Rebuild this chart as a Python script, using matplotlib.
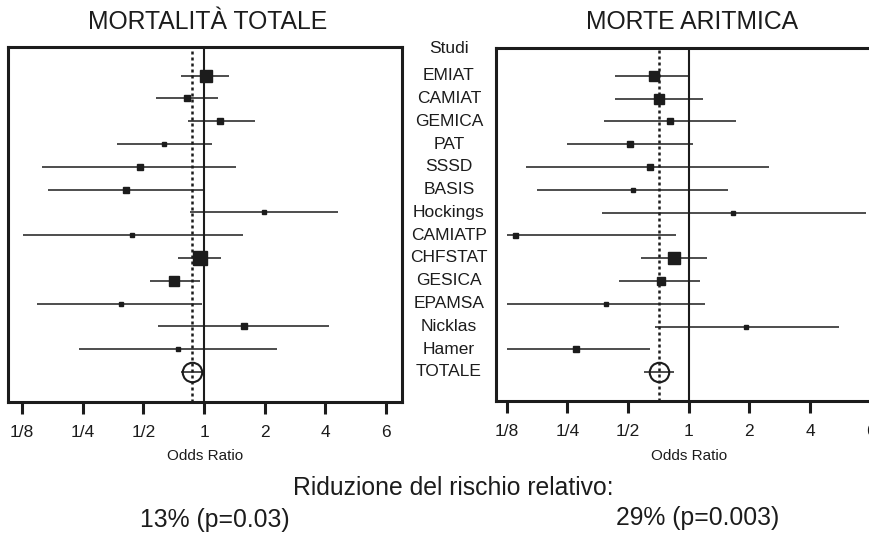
import matplotlib
matplotlib.use("Agg")
import matplotlib.pyplot as plt
import matplotlib.transforms as mtransforms

plt.rcParams['font.family'] = ['Liberation Sans', 'DejaVu Sans']

studies = ["EMIAT", "CAMIAT", "GEMICA", "PAT", "SSSD", "BASIS", "Hockings",
           "CAMIATP", "CHFSTAT", "GESICA", "EPAMSA", "Nicklas", "Hamer"]

# mortalita totale: odds ratio, IC 95%, peso (lato del quadrato, pt)
tot_or = [1.02, 0.82, 1.20, 0.63, 0.48, 0.41, 1.99, 0.44, 0.95, 0.71, 0.386, 1.57, 0.74]
tot_lo = [0.77, 0.575, 0.83, 0.37, 0.158, 0.169, 0.85, 0.126, 0.74, 0.54, 0.149, 0.59, 0.24]
tot_hi = [1.33, 1.17, 1.78, 1.09, 1.44, 0.99, 4.59, 1.56, 1.21, 0.95, 0.98, 4.17, 2.31]
tot_w = [8.5, 5.0, 4.5, 3.5, 4.2, 4.0, 3.0, 3.5, 9.5, 7.5, 3.5, 4.0, 3.5]
tot_pool = (0.875, 0.77, 0.99)

# morte aritmica
arr_or = [0.67, 0.71, 0.81, 0.51, 0.64, 0.53, 1.66, 0.138, 0.85, 0.73, 0.39, 1.93, 0.277]
arr_lo = [0.43, 0.43, 0.38, 0.248, 0.156, 0.177, 0.37, 0.126, 0.58, 0.45, 0.126, 0.68, 0.125]
arr_hi = [1.0, 1.18, 1.71, 1.05, 2.51, 1.56, 7.53, 0.86, 1.23, 1.14, 1.21, 5.57, 0.645]
arr_w = [7.7, 6.7, 4.3, 4.3, 3.8, 3.4, 2.9, 3.6, 8.6, 6.2, 3.4, 3.4, 4.8]
arr_pool = (0.71, 0.60, 0.85)

ticks = [1/8, 1/4, 1/2, 1, 2, 4, 8]
tick_labels = ["1/8", "1/4", "1/2", "1", "2", "4", "6"]

W, H = 869, 536
fig = plt.figure(figsize=(W / 100, H / 100), dpi=100)
ink = "#1c1c1c"


def forest(ax, orr, lo, hi, w, pool, xlim, ylim):
    n = len(orr)
    rows = list(range(1, n + 1))
    ax.hlines(rows, lo, hi, color=ink, lw=1.1, zorder=2)
    for r, o, s in zip(rows, orr, w):
        ax.plot(o, r, marker="s", ms=s, color=ink, mec=ink, zorder=3)
    ax.axvline(1, color=ink, lw=1.5, zorder=1)
    ax.axvline(pool[0], color=ink, lw=1.8, ls=(0, (1.2, 1.2)), zorder=1)
    ax.hlines(n + 1, pool[1], pool[2], color=ink, lw=1.1, zorder=2)
    ax.plot(pool[0], n + 1, marker="o", ms=14, mfc="none", mec=ink, mew=1.5, zorder=3)
    ax.set_xscale("log", base=2)
    ax.set_xlim(*xlim)
    ax.set_ylim(*ylim)
    ax.set_xticks(ticks)
    ax.set_xticklabels(tick_labels)
    ax.minorticks_off()
    ax.set_yticks([])
    ax.tick_params(axis="x", direction="out", length=8.6, width=2.2, pad=8,
                   labelsize=12.5, color=ink, labelcolor=ink)
    for sp in ax.spines.values():
        sp.set_linewidth(2.2)
        sp.set_color(ink)


ax1 = fig.add_axes([8 / W, 1 - 402 / H, 393.7 / W, 355 / H])
forest(ax1, tot_or, tot_lo, tot_hi, tot_w, tot_pool,
       (2 ** -3.23, 2 ** 3.256), (15.32, -0.26))

ax2 = fig.add_axes([495.7 / W, 1 - 401 / H, 393.7 / W, 353 / H])
forest(ax2, arr_or, arr_lo, arr_hi, arr_w, arr_pool,
       (2 ** -3.18, 2 ** 3.306), (15.26, -0.215))

# etichette degli studi tra i due pannelli
trans = mtransforms.blended_transform_factory(fig.transFigure, ax1.transData)
labels = ["Studi"] + studies + ["TOTALE"]
for i, lab in enumerate(labels):
    y = i if i > 0 else -0.2
    ax1.text(449 / W, y, lab, transform=trans, ha="center", va="center",
             fontsize=12.5, color=ink, clip_on=False)

fig.text(208 / W, 1 - 22 / H, "MORTALITÀ TOTALE", ha="center", va="center",
         fontsize=17.8, color=ink)
fig.text(692 / W, 1 - 22 / H, "MORTE ARITMICA", ha="center", va="center",
         fontsize=17.8, color=ink)
fig.text(205 / W, 1 - 456 / H, "Odds Ratio", ha="center", va="center",
         fontsize=11, color=ink)
fig.text(689 / W, 1 - 456 / H, "Odds Ratio", ha="center", va="center",
         fontsize=11, color=ink)
fig.text(453 / W, 1 - 488 / H, "Riduzione del rischio relativo:", ha="center",
         va="center", fontsize=17.8, color=ink)
fig.text(215 / W, 1 - 520 / H, "13% (p=0.03)", ha="center", va="center",
         fontsize=17.8, color=ink)
fig.text(698 / W, 1 - 518 / H, "29% (p=0.003)", ha="center", va="center",
         fontsize=17.8, color=ink)

fig.savefig("out.png", dpi=100)
